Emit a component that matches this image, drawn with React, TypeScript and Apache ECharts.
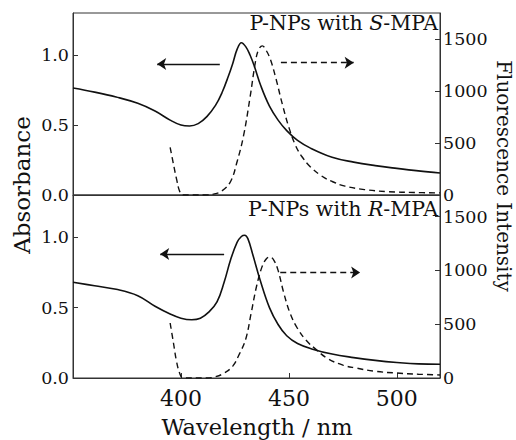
import React, { useEffect, useRef } from "react";
import * as echarts from "echarts";

// Top panel: P-NPs with S-MPA
const sAbsWl = [350, 360, 370, 380, 388, 395, 400, 404, 408, 412, 416, 419, 422, 424, 426, 428, 430, 432, 434, 437, 441, 445, 449, 454, 460, 470, 480, 490, 500, 510, 520];
const sAbsVal = [0.764, 0.735, 0.70, 0.655, 0.60, 0.535, 0.50, 0.493, 0.51, 0.56, 0.64, 0.73, 0.85, 0.94, 1.04, 1.088, 1.06, 1.0, 0.92, 0.78, 0.635, 0.535, 0.46, 0.39, 0.335, 0.27, 0.235, 0.21, 0.19, 0.172, 0.157];
const sFlWl = [395, 396.5, 398, 399.5, 401, 411, 415, 419, 423, 426, 429, 432, 434.5, 436, 437.7, 439.5, 441.5, 444, 447, 450, 453, 456, 460, 465, 470, 476, 485, 496, 508, 520];
const sFlVal = [459, 300, 150, 30, 0, 0, 8, 40, 130, 320, 570, 937, 1280, 1400, 1434, 1390, 1300, 1120, 870, 650, 480, 370, 270, 185, 130, 85, 52, 32, 24, 20];

// Bottom panel: P-NPs with R-MPA
const rAbsWl = [350, 360, 370, 380, 388, 395, 400, 405, 409, 413, 416.7, 420, 423, 426, 428, 429.5, 431, 433.4, 436.6, 441, 445, 449, 454, 461, 470, 480, 490, 500, 510, 520];
const rAbsVal = [0.68, 0.655, 0.63, 0.585, 0.51, 0.455, 0.425, 0.414, 0.425, 0.47, 0.54, 0.68, 0.84, 0.964, 1.005, 1.014, 0.99, 0.87, 0.70, 0.50, 0.38, 0.30, 0.245, 0.205, 0.17, 0.145, 0.125, 0.11, 0.10, 0.098];
const rFlWl = [395, 396.5, 398, 399.5, 401, 412, 416, 420, 424, 427, 430, 432.5, 435, 437.5, 439.5, 441.2, 443, 445, 447.5, 450.5, 454, 458, 462, 468, 475, 481, 490, 500, 510, 520];
const rFlVal = [511, 330, 150, 40, 0, 0, 12, 45, 110, 220, 360, 600, 850, 1030, 1105, 1124, 1095, 1000, 800, 604, 460, 350, 275, 180, 120, 93, 62, 46, 35, 28];

// Axis settings
const wlTicks = [400, 450, 500];
const absTicks = [0, 0.5, 1.0];
const flTicks = [0, 500, 1000, 1500];

// Arrow annotations [x0, x1, y]
const sAbsArrow = [418, 389, 0.935];
const sFlArrow = [446.3, 480, 1272];
const rAbsArrow = [420, 390.4, 0.88];
const rFlArrow = [446, 483, 980];

const FONT = "DejaVu Serif";
const INK = "#111";
const AXIS = "#333";

const zip = (xs: number[], ys: number[]) => xs.map((x, i) => [x, ys[i]]);

function arrowLine(a: number[], dashed: boolean) {
  return {
    silent: true,
    symbol: ["none", "arrow"],
    symbolSize: 9,
    label: { show: false },
    emphasis: { disabled: true },
    lineStyle: { color: INK, width: 1.3, type: dashed ? [6, 4] : "solid" },
    data: [[{ coord: [a[0], a[2]] }, { coord: [a[1], a[2]] }]],
  };
}

export default function App() {
  const ref = useRef<HTMLDivElement>(null);
  useEffect(() => {
    if (!ref.current) return;
    const chart = echarts.init(ref.current, null, { renderer: "svg" });
    const gridBase = { left: 73, width: 367, show: true, borderColor: AXIS, borderWidth: 1, backgroundColor: "transparent" };
    const xBase = (gi: number, labels: boolean) => ({
      gridIndex: gi,
      type: "value",
      min: 350,
      max: 520,
      interval: 50,
      axisLine: { show: true, lineStyle: { color: AXIS, width: 1 } },
      axisTick: { show: labels, inside: true, length: 5, lineStyle: { color: AXIS } },
      axisLabel: {
        show: labels,
        margin: 9,
        fontSize: 22,
        fontFamily: FONT,
        color: INK,
        showMinLabel: false,
        showMaxLabel: false,
        formatter: (v: number) => (wlTicks.includes(v) ? String(v) : ""),
      },
      splitLine: { show: false },
    });
    const absAxis = (gi: number) => ({
      gridIndex: gi,
      type: "value",
      position: "left",
      min: 0,
      max: 1.3,
      interval: 0.5,
      axisLine: { show: true, lineStyle: { color: AXIS, width: 1 } },
      axisTick: { show: true, inside: true, length: 5, lineStyle: { color: AXIS } },
      axisLabel: {
        margin: 4,
        fontSize: 17.5,
        fontFamily: FONT,
        color: INK,
        showMaxLabel: false,
        formatter: (v: number) => (absTicks.some((t) => Math.abs(t - v) < 1e-6) ? v.toFixed(1) : ""),
      },
      splitLine: { show: false },
    });
    const flAxis = (gi: number, max: number) => ({
      gridIndex: gi,
      type: "value",
      position: "right",
      min: 0,
      max,
      interval: 500,
      axisLine: { show: true, lineStyle: { color: AXIS, width: 1 } },
      axisTick: { show: true, inside: true, length: 5, lineStyle: { color: AXIS } },
      axisLabel: {
        margin: 3,
        fontSize: 17.5,
        fontFamily: FONT,
        color: INK,
        showMaxLabel: false,
        formatter: (v: number) => (flTicks.includes(v) ? String(v) : ""),
      },
      splitLine: { show: false },
    });
    const solid = { color: INK, width: 1.6, type: "solid" };
    const dashed = { color: INK, width: 1.4, type: [6, 4] };
    const lineSeries = (name: string, xi: number, yi: number, data: number[][], ls: any, arrow: any) => ({
      name,
      type: "line",
      xAxisIndex: xi,
      yAxisIndex: yi,
      data,
      smooth: 0.4,
      showSymbol: false,
      symbol: "none",
      clip: true,
      lineStyle: ls,
      itemStyle: { color: INK },
      markLine: arrow,
    });
    const labelRich = (letter: string) => ({
      type: "text",
      right: 78,
      style: {
        text: `{a|P-NPs with }{i|${letter}}{a|-MPA}`,
        rich: {
          a: { fontSize: 20.5, fontFamily: FONT, fill: INK, color: INK },
          i: { fontSize: 20.5, fontFamily: FONT, fontStyle: "italic", fill: INK, color: INK },
        },
      },
    });
    chart.setOption({
      animation: false,
      backgroundColor: "#fff",
      grid: [
        { ...gridBase, top: 13, height: 182 },
        { ...gridBase, top: 195, height: 183 },
      ],
      xAxis: [xBase(0, false), xBase(1, true)],
      yAxis: [absAxis(0), flAxis(0, 1750), absAxis(1), flAxis(1, 1700)],
      series: [
        lineSeries("S-MPA absorbance", 0, 0, zip(sAbsWl, sAbsVal), solid, arrowLine(sAbsArrow, false)),
        lineSeries("S-MPA fluorescence", 0, 1, zip(sFlWl, sFlVal), dashed, arrowLine(sFlArrow, true)),
        lineSeries("R-MPA absorbance", 1, 2, zip(rAbsWl, rAbsVal), solid, arrowLine(rAbsArrow, false)),
        lineSeries("R-MPA fluorescence", 1, 3, zip(rFlWl, rFlVal), dashed, arrowLine(rFlArrow, true)),
      ],
      graphic: [
        { ...labelRich("S"), top: 12 },
        { ...labelRich("R"), top: 198 },
        {
          type: "text",
          x: 22,
          y: 185,
          rotation: Math.PI / 2,
          style: { text: "Absorbance", fontSize: 23, fontFamily: FONT, fill: INK, align: "center", verticalAlign: "middle" },
        },
        {
          type: "text",
          x: 504,
          y: 176,
          rotation: -Math.PI / 2,
          style: { text: "Fluorescence Intensity", fontSize: 20, fontFamily: FONT, fill: INK, align: "center", verticalAlign: "middle" },
        },
        {
          type: "text",
          x: 257,
          y: 427,
          style: { text: "Wavelength / nm", fontSize: 22.5, fontFamily: FONT, fill: INK, align: "center", verticalAlign: "middle" },
        },
      ],
    });
    return () => chart.dispose();
  }, []);
  return <div ref={ref} style={{ width: 516, height: 440, position: "absolute", left: 0, top: 0 }} />;
}
